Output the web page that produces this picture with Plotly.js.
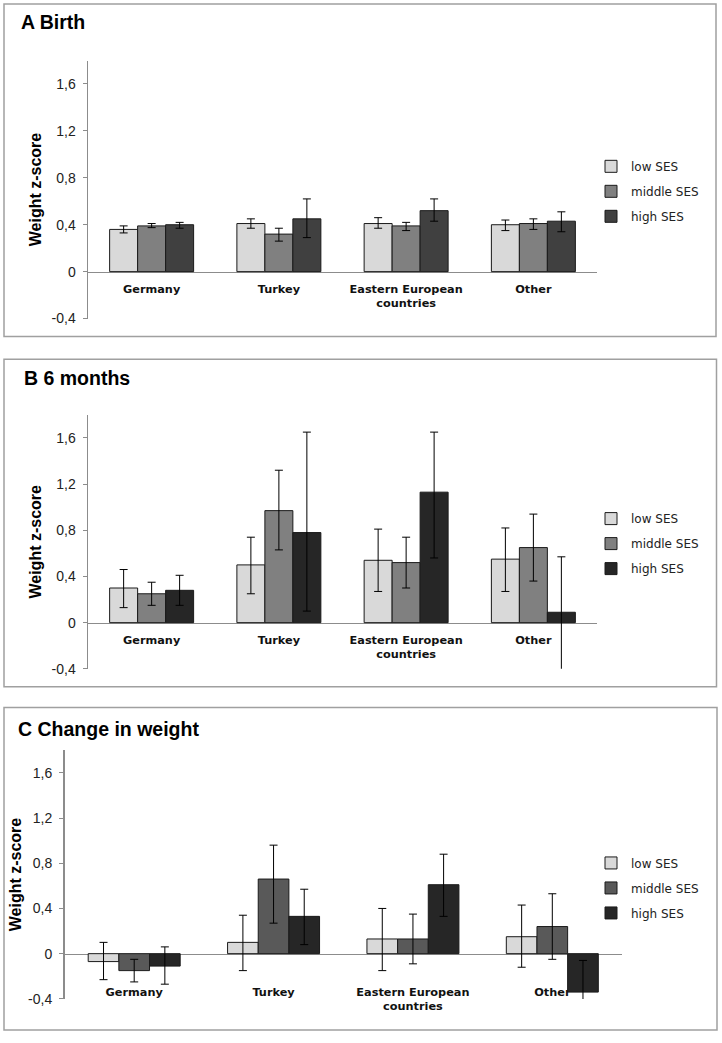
<!DOCTYPE html>
<html><head><meta charset="utf-8">
<script src="https://cdn.plot.ly/plotly-3.0.1.min.js"></script>
<style>html,body{margin:0;padding:0;background:#fff}#chart{width:722px;height:1043px}</style>
</head><body><div id="chart"></div>
<script>
// ---------- DATA ----------
const categories = ['Germany', 'Turkey', 'Eastern European<br>countries', 'Other'];
const seriesNames = ['low SES', 'middle SES', 'high SES'];
const yTickVals = [-0.4, 0, 0.4, 0.8, 1.2, 1.6];
const yTickText = ['-0,4', '0', '0,4', '0,8', '1,2', '1,6'];
const panelTitles = ['A Birth', 'B 6 months', 'C Change in weight'];
const yAxisTitle = 'Weight z-score';

// Panel A: Birth  (value, upper CI, lower CI)
const birthLow       = [0.36, 0.41, 0.41, 0.40];
const birthLowUp     = [0.39, 0.45, 0.46, 0.44];
const birthLowDn     = [0.33, 0.37, 0.37, 0.35];
const birthMid       = [0.39, 0.32, 0.39, 0.41];
const birthMidUp     = [0.41, 0.37, 0.42, 0.45];
const birthMidDn     = [0.375, 0.26, 0.35, 0.36];
const birthHigh      = [0.40, 0.45, 0.52, 0.43];
const birthHighUp    = [0.42, 0.62, 0.62, 0.51];
const birthHighDn    = [0.37, 0.29, 0.43, 0.34];

// Panel B: 6 months
const m6Low          = [0.30, 0.50, 0.54, 0.55];
const m6LowUp        = [0.46, 0.74, 0.81, 0.82];
const m6LowDn        = [0.13, 0.25, 0.27, 0.27];
const m6Mid          = [0.25, 0.97, 0.52, 0.65];
const m6MidUp        = [0.35, 1.32, 0.74, 0.94];
const m6MidDn        = [0.15, 0.63, 0.30, 0.36];
const m6High         = [0.28, 0.78, 1.13, 0.09];
const m6HighUp       = [0.41, 1.65, 1.65, 0.57];
const m6HighDn       = [0.15, 0.10, 0.56, -0.50];

// Panel C: Change in weight
const chgLow         = [-0.07, 0.10, 0.13, 0.15];
const chgLowUp       = [0.10, 0.34, 0.40, 0.43];
const chgLowDn       = [-0.23, -0.15, -0.15, -0.12];
const chgMid         = [-0.15, 0.66, 0.13, 0.24];
const chgMidUp       = [-0.05, 0.96, 0.35, 0.53];
const chgMidDn       = [-0.25, 0.27, -0.09, -0.05];
const chgHigh        = [-0.11, 0.33, 0.61, -0.34];
const chgHighUp      = [0.06, 0.57, 0.88, -0.06];
const chgHighDn      = [-0.27, 0.08, 0.33, -0.62];

// ---------- LAYOUT HELPERS ----------
const W = 722, H = 1043;
const fx = px => px / W;
const fy = px => 1 - px / H;
const yMin = -0.4, yMax = 1.8;

const panels = [
  { vals: [[birthLow, birthLowUp, birthLowDn], [birthMid, birthMidUp, birthMidDn], [birthHigh, birthHighUp, birthHighDn]],
    colors: ['#d9d9d9', '#808080', '#404040'],
    plot: [88, 61, 597, 321], box: [4, 4, 716, 339], title: [19, 22], legend: [591, 153], lblOff: 6, tStand: 6 },
  { vals: [[m6Low, m6LowUp, m6LowDn], [m6Mid, m6MidUp, m6MidDn], [m6High, m6HighUp, m6HighDn]],
    colors: ['#d9d9d9', '#808080', '#262626'],
    plot: [88, 418, 597, 674], box: [4, 362, 716.5, 692], title: [22, 381], legend: [591, 508], lblOff: 6, tStand: 6 },
  { vals: [[chgLow, chgLowUp, chgLowDn], [chgMid, chgMidUp, chgMidDn], [chgHigh, chgHighUp, chgHighDn]],
    colors: ['#d9d9d9', '#595959', '#262626'],
    plot: [64.5, 756, 622, 1006.6], box: [4, 713, 717, 1038], title: [15.5, 735], legend: [591, 855], lblOff: 27, tStand: 2 }
];

const data = [];
const layout = {
  width: W, height: H,
  margin: { l: 0, r: 0, t: 0, b: 0, pad: 0 },
  paper_bgcolor: '#ffffff', plot_bgcolor: 'rgba(0,0,0,0)',
  barmode: 'group', bargap: 0.34, bargroupgap: 0,
  showlegend: true,
  shapes: [], annotations: []
};

panels.forEach((p, i) => {
  const n = i === 0 ? '' : String(i + 1);
  const xa = 'x' + n, ya = 'y' + n;
  const lg = 'legend' + n;
  p.vals.forEach((s, k) => {
    const [v, up, dn] = s;
    data.push({
      type: 'bar', name: seriesNames[k], x: categories, y: v,
      xaxis: xa, yaxis: ya, legend: lg, legendgroup: 'g' + i + k,
      marker: { color: p.colors[k], line: { color: '#1a1a1a', width: 1 } },
      error_y: { type: 'data', symmetric: false,
        array: v.map((d, j) => up[j] - d), arrayminus: v.map((d, j) => d - dn[j]),
        color: '#000', thickness: 1, width: 4 },
      hoverinfo: 'none'
    });
  });
  const yd = [fy(p.plot[3]), fy(p.plot[1])];
  const zeroPos = yd[0] + (0 - yMin) / (yMax - yMin) * (yd[1] - yd[0]);
  layout['xaxis' + n] = {
    domain: [fx(p.plot[0]), fx(p.plot[2])], anchor: 'free', position: zeroPos,
    type: 'category', showline: true, linecolor: '#8c8c8c', linewidth: 1.5,
    ticks: '', showgrid: false, zeroline: false, layer: 'below traces',
    ticklabelstandoff: p.lblOff,
    tickfont: { family: 'DejaVu Sans', size: 11.3, color: '#111', weight: 'bold' },
    fixedrange: true
  };
  layout['yaxis' + n] = {
    domain: yd, anchor: xa, range: [yMin, yMax],
    tickmode: 'array', tickvals: yTickVals, ticktext: yTickText,
    ticks: 'outside', ticklen: 4, tickcolor: '#8c8c8c', tickwidth: 1,
    showline: true, linecolor: '#8c8c8c', linewidth: 1.5,
    showgrid: false, zeroline: false, ticklabelstandoff: 4,
    tickfont: { family: 'Liberation Sans', size: 14, color: '#222' },
    title: { text: yAxisTitle, font: { family: 'Liberation Sans', size: 16, color: '#000', weight: 'bold' }, standoff: p.tStand },
    automargin: true, fixedrange: true
  };
  layout[lg] = {
    x: fx(p.legend[0]), y: fy(p.legend[1]), xanchor: 'left', yanchor: 'top',
    bgcolor: 'rgba(0,0,0,0)', borderwidth: 0, traceorder: 'grouped', tracegroupgap: 6,
    itemwidth: 30, font: { family: 'DejaVu Sans', size: 12, color: '#222' }
  };
  layout.shapes.push({ type: 'rect', xref: 'paper', yref: 'paper',
    x0: fx(p.box[0]), x1: fx(p.box[2]), y0: fy(p.box[3]), y1: fy(p.box[1]),
    line: { color: '#a0a0a0', width: 1.5 }, fillcolor: 'rgba(0,0,0,0)' });
  layout.annotations.push({ xref: 'paper', yref: 'paper', x: fx(p.title[0]), y: fy(p.title[1]),
    xanchor: 'left', yanchor: 'middle', showarrow: false, text: '<b>' + panelTitles[i] + '</b>',
    font: { family: 'Liberation Sans', size: 19.5, color: '#000' } });
});

Plotly.newPlot('chart', data, layout, { displayModeBar: false, staticPlot: true });
</script></body></html>
